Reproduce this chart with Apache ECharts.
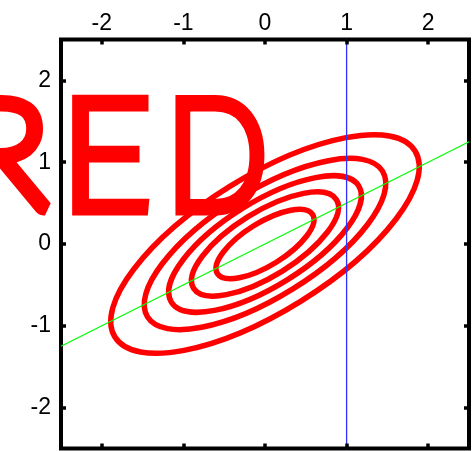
<!DOCTYPE html>
<html>
<head>
<meta charset="utf-8">
<script src="https://cdn.jsdelivr.net/npm/echarts@6/dist/echarts.min.js"></script>
<style>
  html, body { margin: 0; padding: 0; background: #fff; }
  #chart { width: 472px; height: 451px; }
</style>
</head>
<body>
<div id="chart"></div>
<script>
// Bivariate normal: centre and covariance (varX, covXY, varY)
const center = [0, 0];
const covariance = [1, 0.5, 0.5];
// Mahalanobis radii of the density contours drawn (1/6 ... 5/6 of the peak)
const contourRadii = [0.6, 0.9, 1.18, 1.48, 1.89];
// Regression line E[y|x] across the plot
const fitLineX = [-2.5, 2.5];
const fitLineY = [-1.25, 1.25];
// Vertical marker
const markerX = 1;
// Axis range and tick labels
const axisRange = [-2.5, 2.5];
const tickValues = [-2, -1, 0, 1, 2];
// Marker-pen lettering
const letters = ['R', 'E', 'D'];
const letterX = [4, 106, 217];
const letterScaleX = [1, 1, 0.88];

const chart = echarts.init(document.getElementById('chart'), null, { renderer: 'canvas' });

const labelFont = { fontFamily: '"Liberation Sans", Arial, sans-serif', fontSize: 23, color: '#000' };

function axisBase(extra) {
  return Object.assign({
    type: 'value',
    min: axisRange[0],
    max: axisRange[1],
    axisLine: { show: false, onZero: false },
    splitLine: { show: false },
    axisTick: {
      show: true, inside: true, length: 5,
      customValues: tickValues,
      lineStyle: { color: '#000', width: 3.5 }
    },
    axisLabel: { show: false, customValues: tickValues },
    z: 10
  }, extra);
}

const topLabel = Object.assign({ show: true, margin: 4, customValues: tickValues }, labelFont);
const leftLabel = Object.assign({ show: true, margin: 10, customValues: tickValues }, labelFont);

const option = {
  animation: false,
  backgroundColor: '#fff',
  grid: {
    left: 61, top: 39.5, width: 408, height: 409,
    show: true, borderColor: '#000', borderWidth: 4,
    backgroundColor: 'transparent'
  },
  xAxis: [
    axisBase({ position: 'top', axisLabel: topLabel }),
    axisBase({ position: 'bottom' })
  ],
  yAxis: [
    axisBase({ position: 'left', axisLabel: leftLabel }),
    axisBase({ position: 'right' })
  ],
  graphic: letters.map((ch, i) => ({
    type: 'text', z: -1,
    x: letterX[i], y: 160, scaleX: letterScaleX[i],
    style: {
      text: ch, x: 0, y: 0, align: 'center', verticalAlign: 'middle',
      font: '100 150px Lato', fill: '#ff0000', stroke: '#ff0000',
      lineWidth: 15, lineJoin: 'round', lineCap: 'round'
    }
  })),
  series: [
    {
      // density contours as ellipses in pixel space
      type: 'custom',
      xAxisIndex: 0, yAxisIndex: 0,
      data: contourRadii.map(k => [k]),
      renderItem: function (params, api) {
        const k = api.value(0);
        const c = api.coord(center);
        const px = api.size([1, 1]);
        const sx = px[0], sy = px[1];
        const a = covariance[0] * sx * sx;
        const b = -covariance[1] * sx * sy;
        const d = covariance[2] * sy * sy;
        const m = (a + d) / 2;
        const r = Math.sqrt(((a - d) / 2) * ((a - d) / 2) + b * b);
        const l1 = m + r, l2 = m - r;
        const theta = 0.5 * Math.atan2(2 * b, a - d);
        return {
          type: 'ellipse',
          x: c[0], y: c[1],
          rotation: -theta,
          shape: { cx: 0, cy: 0, rx: k * Math.sqrt(l1), ry: k * Math.sqrt(l2) },
          style: { fill: 'none', stroke: '#ff0000', lineWidth: 5.5 }
        };
      },
      z: 3
    },
    {
      type: 'line',
      xAxisIndex: 0, yAxisIndex: 0,
      data: fitLineX.map((x, i) => [x, fitLineY[i]]),
      showSymbol: false,
      lineStyle: { color: '#00ff00', width: 1.3 },
      z: 4
    },
    {
      type: 'line',
      xAxisIndex: 0, yAxisIndex: 0,
      data: [[markerX, axisRange[0]], [markerX, axisRange[1]]],
      showSymbol: false,
      lineStyle: { color: '#3030ff', width: 1.3 },
      z: 4
    }
  ]
};

chart.setOption(option);
</script>
</body>
</html>
